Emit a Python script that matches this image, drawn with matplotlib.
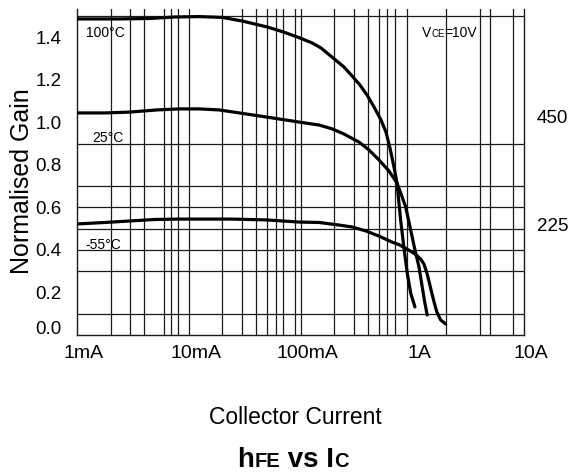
import matplotlib
matplotlib.use("Agg")
import matplotlib.pyplot as plt
import matplotlib.transforms as mtransforms

plt.rcParams['font.family'] = ['Liberation Sans', 'DejaVu Sans']

# collector current (A) and normalised gain
ic_100 = [0.001, 0.0024, 0.00446, 0.00745, 0.01245, 0.020, 0.0302, 0.0505, 0.0701,
          0.0993, 0.127, 0.153, 0.196, 0.245, 0.289, 0.341, 0.394, 0.455, 0.525,
          0.582, 0.632, 0.686, 0.730, 0.787, 0.843, 0.902, 0.968, 1.057]
gain_100 = [1.486, 1.486, 1.488, 1.495, 1.497, 1.493, 1.476, 1.448, 1.425,
            1.396, 1.373, 1.349, 1.302, 1.260, 1.218, 1.175, 1.128, 1.072, 1.011,
            0.954, 0.879, 0.790, 0.715, 0.541, 0.409, 0.291, 0.197, 0.132]

ic_25 = [0.001, 0.00177, 0.00296, 0.00515, 0.00826, 0.01247, 0.0188, 0.0284, 0.0494,
         0.0973, 0.147, 0.192, 0.245, 0.334, 0.410, 0.504, 0.619, 0.730, 0.873,
         0.968, 1.057, 1.148, 1.213, 1.291, 1.36]
gain_25 = [1.044, 1.044, 1.048, 1.058, 1.063, 1.063, 1.058, 1.044, 1.025,
           1.001, 0.987, 0.969, 0.945, 0.907, 0.870, 0.823, 0.771, 0.715, 0.603,
           0.494, 0.400, 0.321, 0.243, 0.157, 0.094]

ic_m55 = [0.001, 0.00177, 0.00296, 0.00494, 0.00826, 0.0245, 0.0494, 0.0973, 0.147,
          0.221, 0.289, 0.386, 0.504, 0.657, 0.760, 0.877, 0.994, 1.10, 1.196,
          1.271, 1.353, 1.425, 1.496, 1.577, 1.66, 1.795, 1.987]
gain_m55 = [0.522, 0.529, 0.536, 0.543, 0.545, 0.545, 0.541, 0.531, 0.529,
            0.517, 0.508, 0.489, 0.465, 0.437, 0.425, 0.407, 0.390, 0.374, 0.355,
            0.334, 0.291, 0.244, 0.197, 0.150, 0.108, 0.071, 0.052]

# grid of the original sheet (not every minor decade line is drawn)
vgrid = [0.002, 0.003, 0.004, 0.006, 0.007, 0.008, 0.01,
         0.02, 0.03, 0.04, 0.05, 0.06, 0.07, 0.09, 0.1,
         0.2, 0.3, 0.4, 0.5, 0.6, 0.7, 0.9,
         2, 4, 5, 8]
hgrid = [0.1, 0.3, 0.4, 0.5, 0.6, 0.7, 0.9, 1.5]

xticks = [0.001, 0.01, 0.1, 1, 10]
xlabels = ['1mA', '10mA', '100mA', '1A', '10A']
yticks = [0.0, 0.2, 0.4, 0.6, 0.8, 1.0, 1.2, 1.4]
ylabels = ['0.0', '0.2', '0.4', '0.6', '0.8', '1.0', '1.2', '1.4']

fig = plt.figure(figsize=(5.69, 4.76), dpi=100)
W, H = 569.0, 476.0
ax = fig.add_axes([77 / W, (H - 335) / H, 447 / W, 326 / H])

for x in vgrid:
    ax.axvline(x, color='#1a1a1a', lw=0.9, zorder=1)
for y in hgrid:
    ax.axhline(y, color='#1a1a1a', lw=0.9, zorder=1)

ax.plot(ic_100, gain_100, color='black', lw=2.3, zorder=3, solid_capstyle='round')
ax.plot(ic_25, gain_25, color='black', lw=2.3, zorder=3, solid_capstyle='round')
ax.plot(ic_m55, gain_m55, color='black', lw=2.3, zorder=3, solid_capstyle='round')

ax.set_xscale('log')
ax.set_xlim(0.001, 10)
ax.set_ylim(0, 326 / 212.7)
ax.spines['top'].set_visible(False)
for s in ['left', 'right', 'bottom']:
    ax.spines[s].set_linewidth(1.0)
    ax.spines[s].set_color('#1a1a1a')

ax.set_xticks(xticks)
ax.set_xticklabels(xlabels)
ax.xaxis.set_minor_locator(matplotlib.ticker.NullLocator())
ax.set_yticks(yticks)
ax.set_yticklabels(ylabels)
ax.tick_params(axis='both', length=0)
ax.tick_params(axis='x', pad=7, labelsize=14)
ax.tick_params(axis='y', pad=11, labelsize=13.5)
shift = mtransforms.ScaledTranslation(0.07, 0, fig.dpi_scale_trans)
for lab in ax.get_xticklabels():
    lab.set_transform(lab.get_transform() + shift)
# the 0.0 label sits a little above the baseline on the sheet
lab0 = ax.get_yticklabels()[0]
lab0.set_transform(lab0.get_transform() + mtransforms.ScaledTranslation(0, 0.08, fig.dpi_scale_trans))

ax.set_ylabel('Normalised Gain', fontsize=18, va='center')
ax.yaxis.set_label_coords(-0.123, 0.472)
fig.text(295 / W, (H - 417) / H, 'Collector Current', fontsize=16.5,
         ha='center', va='center')

ax.text(0.0012, 1.40, '100°C', fontsize=10)
ax.text(0.00138, 0.907, '25°C', fontsize=10)
ax.text(0.0012, 0.404, '-55°C', fontsize=10)

rt = mtransforms.blended_transform_factory(ax.transAxes, ax.transData)
ax.text(1.029, 1.02, '450', fontsize=13.5, va='center', transform=rt, clip_on=False)
ax.text(1.029, 0.51, '225', fontsize=13.5, va='center', transform=rt, clip_on=False)


def chain_text(x_px, y_px, parts, center=False, bold=False):
    renderer = fig.canvas.get_renderer()
    items = []
    pos = x_px
    for s, size in parts:
        t = fig.text(pos / W, (H - y_px) / H, s, fontsize=size, va='baseline',
                     fontweight='bold' if bold else 'normal')
        ext = t.get_window_extent(renderer)
        pos = ext.x1
        items.append(t)
    if center:
        width = pos - x_px
        for t in items:
            px, py = t.get_position()
            t.set_position((px - width / 2 / W, py))


chain_text(422, 37, [('V', 10), ('CE', 7), ('=10V', 10)])
chain_text(293, 467, [('h', 20), ('FE', 14.5), (' vs I', 20), ('C', 14.5)],
           center=True, bold=True)

fig.savefig('out.png', dpi=100)
